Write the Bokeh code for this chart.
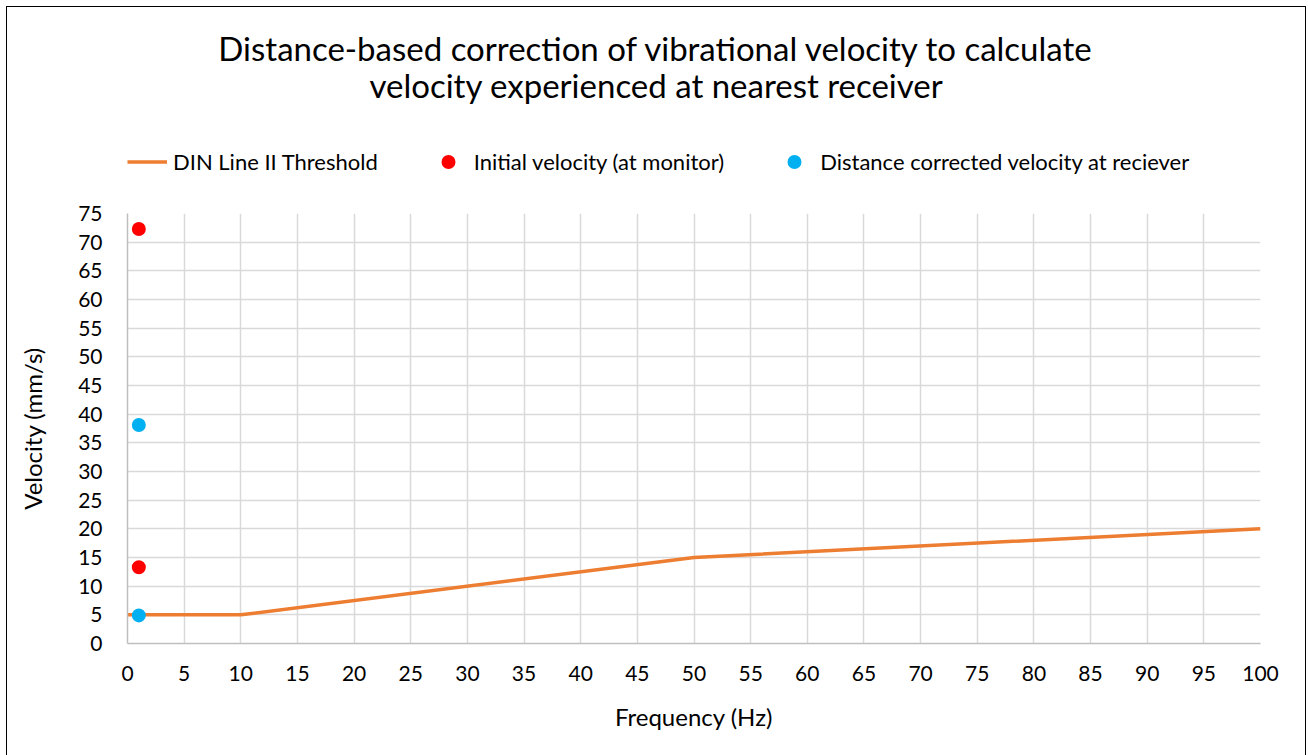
from bokeh.plotting import figure
from bokeh.layouts import column
from bokeh.models import FixedTicker, Legend, LegendItem, Label
from bokeh.embed import file_html
from bokeh.resources import INLINE

# Data
din_freq = [0, 10, 50, 100]
din_vel = [5, 5, 15, 20]
initial_freq = [1, 1]
initial_vel = [72.3, 13.3]
corrected_freq = [1, 1]
corrected_vel = [38.1, 4.9]
x_ticks = list(range(0, 101, 5))
y_ticks = list(range(0, 76, 5))
title_lines = ["Distance-based correction of vibrational velocity to calculate",
               "velocity experienced at nearest receiver"]
series_names = ["DIN Line II Threshold", "Initial velocity (at monitor)",
                "Distance corrected velocity at reciever"]

FONT = "Lato"
ORANGE, RED, BLUE = "#ED7D31", "#FF0000", "#00B0F0"
W = 1298
HEAD_H = 194
BORDER_L, BORDER_R, BORDER_T = 120, 45, 12
FRAME_W = W - BORDER_L - BORDER_R
HEAD_FRAME_H = HEAD_H - BORDER_T
NAN = float("nan")

# ---------- header (title + legend); data units = pixels inside its frame ----------
head = figure(width=W, height=HEAD_H, x_range=(0, FRAME_W), y_range=(HEAD_FRAME_H, 0),
              output_backend="svg", toolbar_location=None,
              x_axis_location=None, y_axis_location=None,
              min_border_left=BORDER_L, min_border_right=BORDER_R,
              min_border_top=BORDER_T, min_border_bottom=0)
head.title.visible = False
head.outline_line_color = None
head.grid.grid_line_color = None
head.background_fill_color = "white"
head.border_fill_color = "white"

for txt, base in zip(title_lines, [28, 65]):
    head.add_layout(Label(x=529, y=base, text=txt, text_align="center",
                          text_baseline="alphabetic", text_font=FONT,
                          text_font_size="33px", text_color="black"))

# legend swatches only (no visible marks in the header)
h_line = head.line(x=[NAN], y=[NAN], line_color=ORANGE, line_width=3.5)
h_init = head.scatter(x=[NAN], y=[NAN], size=14, fill_color=RED, line_color=None)
h_corr = head.scatter(x=[NAN], y=[NAN], size=14, fill_color=BLUE, line_color=None)

legend = Legend(items=[
    LegendItem(label=series_names[0], renderers=[h_line]),
    LegendItem(label=series_names[1], renderers=[h_init]),
    LegendItem(label=series_names[2], renderers=[h_corr]),
], orientation="horizontal", location=(0, 22), padding=0, margin=0,
    spacing=50, glyph_width=40, glyph_height=35, label_height=35, label_standoff=6,
    label_text_font=FONT, label_text_font_size="22px", label_text_color="black",
    border_line_color=None, background_fill_alpha=0)
head.add_layout(legend)

# ---------- main chart ----------
p = figure(width=W, height=556, x_range=(0, 100), y_range=(0, 75),
           output_backend="svg", toolbar_location=None,
           min_border_left=BORDER_L, min_border_right=BORDER_R,
           min_border_top=BORDER_T, min_border_bottom=114)
p.title.visible = False
p.outline_line_color = None
p.background_fill_color = "white"
p.border_fill_color = "white"

for ax in (p.xaxis[0], p.yaxis[0]):
    ax.major_tick_line_color = None
    ax.minor_tick_line_color = None
    ax.axis_line_color = "#bfbfbf"
    ax.axis_line_width = 1.5
    ax.major_label_text_font = FONT
    ax.major_label_text_font_size = "21px"
    ax.major_label_text_color = "black"
    ax.axis_label_text_font = FONT
    ax.axis_label_text_font_size = "24px"
    ax.axis_label_text_font_style = "normal"
    ax.axis_label_text_color = "black"

p.xaxis.ticker = FixedTicker(ticks=x_ticks)
p.yaxis.ticker = FixedTicker(ticks=y_ticks)
p.xaxis.major_label_standoff = 16
p.yaxis.major_label_standoff = 19
p.xaxis.axis_label = "Frequency (Hz)"
p.yaxis.axis_label = "Velocity (mm/s)"
p.xaxis.axis_label_standoff = 18
p.yaxis.axis_label_standoff = 28

p.xgrid.ticker = FixedTicker(ticks=x_ticks)
p.ygrid.ticker = FixedTicker(ticks=y_ticks)
for g in (p.xgrid[0], p.ygrid[0]):
    g.grid_line_color = "#d9d9d9"
    g.grid_line_width = 1.5

p.line(din_freq, din_vel, line_color=ORANGE, line_width=3.5)
p.scatter(initial_freq, initial_vel, size=14, fill_color=RED, line_color=None)
p.scatter(corrected_freq, corrected_vel, size=14, fill_color=BLUE, line_color=None)

layout = column(head, p, spacing=0,
                styles={"margin-left": "7px", "margin-top": "7px",
                        "outline": "1px solid black", "outline-offset": "0px"})

open("out.html", "w").write(file_html(layout, INLINE))
